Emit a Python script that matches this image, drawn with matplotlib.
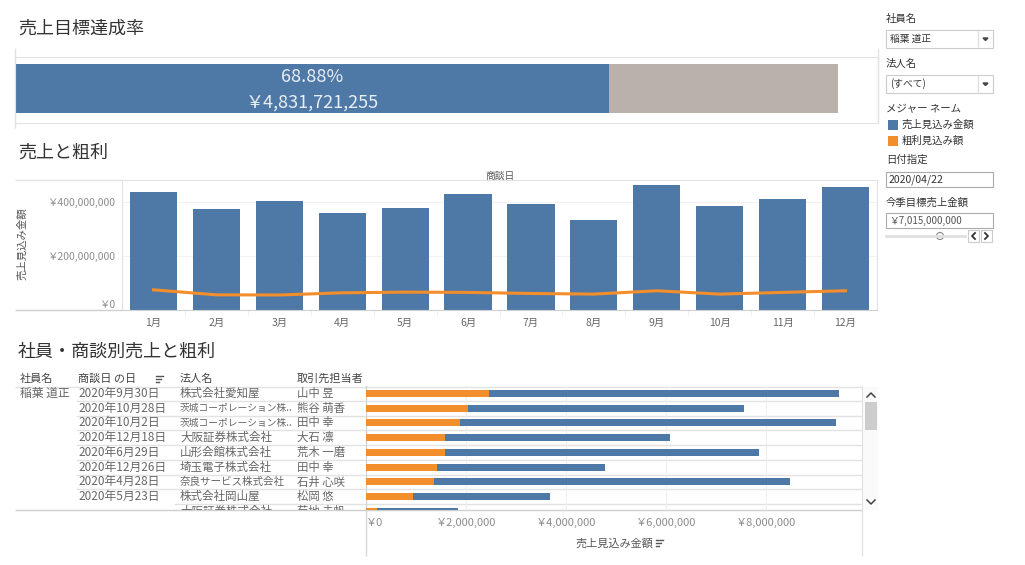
import matplotlib.pyplot as plt
from matplotlib.patches import Rectangle, Circle
import numpy as np

plt.rcParams['font.family'] = ['Noto Sans CJK JP', 'DejaVu Sans']

# ------------------------ #
# DATA
# ------------------------ #

achieved_sales = 4831721255
achieved_rate = 68.88
gray_bar_value = 6.69e9          # end of the grey bar
target_sales = 7015000000

months = ['1月', '2月', '3月', '4月', '5月', '6月',
          '7月', '8月', '9月', '10月', '11月', '12月']
monthly_sales = [435.6e6, 371.7e6, 401.0e6, 358.5e6, 376.9e6, 428.0e6,
                 391.5e6, 334.0e6, 461.0e6, 385.0e6, 410.0e6, 452.5e6]
monthly_profit = [74.5e6, 56.0e6, 55.4e6, 63.5e6, 66.0e6, 65.0e6,
                  61.0e6, 58.7e6, 71.0e6, 58.7e6, 65.0e6, 71.0e6]

employee = '稲葉 道正'
deal_dates = ['2020年9月30日', '2020年10月28日', '2020年10月2日', '2020年12月18日',
              '2020年6月29日', '2020年12月26日', '2020年4月28日', '2020年5月23日',
              '2020年5月23日']
companies = ['株式会社愛知屋', '茨城コーポレーション株..', '茨城コーポレーション株..',
             '大阪証券株式会社', '山形会館株式会社', '埼玉電子株式会社',
             '奈良サービス株式会社', '株式会社岡山屋', '大阪証券株式会社']
contacts = ['山中 昱', '熊谷 萌香', '田中 幸', '大石 凛', '荒木 一磨',
            '田中 幸', '石井 心咲', '松岡 悠', '菊地 未帆']
deal_sales = [9.46e6, 7.56e6, 9.39e6, 6.07e6, 7.85e6, 4.77e6, 8.47e6, 3.67e6, 1.83e6]
deal_profit = [2.45e6, 2.03e6, 1.87e6, 1.57e6, 1.57e6, 1.42e6, 1.35e6, 0.94e6, 0.22e6]

legend_names = ['売上見込み金額', '粗利見込み額']
selected_date = '2020/04/22'

# ------------------------ #
# STYLE
# ------------------------ #

BLUE = '#4e79a7'
ORANGE = '#f28e2b'
GREY = '#bab0ac'
LINE = '#e2e2e2'
DARK = '#333333'
MID = '#666666'
LIGHT = '#8c8c8c'

W, H = 1025, 565
fig = plt.figure(figsize=(W / 100, H / 100), dpi=100)


def add_ax(x0, y0, x1, y1):
    # axes given in pixel coords (origin top left)
    ax = fig.add_axes([x0 / W, 1 - y1 / H, (x1 - x0) / W, (y1 - y0) / H])
    ax.set_facecolor('none')
    return ax


ov = add_ax(0, 0, W, H)
ov.set_xlim(0, W)
ov.set_ylim(H, 0)
ov.axis('off')


def hline(y, x0, x1, c=LINE, lw=1.0):
    ov.plot([x0, x1], [y, y], color=c, lw=lw, solid_capstyle='butt')


def vline(x, y0, y1, c=LINE, lw=1.0):
    ov.plot([x, x], [y0, y1], color=c, lw=lw, solid_capstyle='butt')


def sort_icon(x, y):
    for k, ln in enumerate([7, 5, 3]):
        ov.plot([x, x + ln], [y - 3 + 3 * k] * 2, color='#555555', lw=1.0)


# titles
for ty, tt in [(29, '売上目標達成率'), (153, '売上と粗利'), (352, '社員・商談別売上と粗利')]:
    ov.text(18, ty, tt, fontsize=13, color=DARK, va='center')

# ------------------------ #
# PROGRESS BAR
# ------------------------ #
axp = add_ax(15, 57, 878, 123)
axp.barh(0, gray_bar_value, height=1, color=GREY)
axp.barh(0, achieved_sales, height=1, color=BLUE)
axp.set_xlim(0, target_sales)
axp.set_ylim(0.5 + 10 / 49, -0.5 - 7 / 49)
axp.set_xticks([])
axp.set_yticks([])
for s in axp.spines.values():
    s.set_color(LINE)
axp.text(achieved_sales / 2, -0.5 + 13 / 49, f'{achieved_rate:.2f}%',
         ha='center', va='center', fontsize=13, color='#e9eef4')
axp.text(achieved_sales / 2, -0.5 + 39 / 49, f'￥{achieved_sales:,}',
         ha='center', va='center', fontsize=13, color='#e9eef4')
vline(15, 48, 128)

# ------------------------ #
# MONTHLY BAR + LINE
# ------------------------ #
axb = add_ax(122, 180, 877, 310)
xm = np.arange(len(months))
axb.bar(xm, monthly_sales, width=0.75, color=BLUE, zorder=2)
axb.plot(xm, monthly_profit, color=ORANGE, lw=2.2, zorder=3)
axb.set_xlim(-0.5, len(months) - 0.5)
axb.set_ylim(0, 480e6)
axb.set_xticks(xm)
axb.set_xticklabels(months, fontsize=7.5, color=MID)
axb.set_xticks(xm[:-1] + 0.5, minor=True)
axb.set_yticks([0, 200e6, 400e6])
axb.set_yticklabels(['￥0', '￥200,000,000', '￥400,000,000'], fontsize=7.5, color=LIGHT)
axb.yaxis.get_ticklabels()[0].set_va('bottom')
axb.tick_params(axis='x', which='major', length=0, pad=6)
axb.tick_params(axis='x', which='minor', length=4, color='#eeeeee')
axb.tick_params(axis='y', length=0, pad=5)
axb.grid(axis='y', color='#f2f2f2', lw=0.8, zorder=0)
for s in axb.spines.values():
    s.set_color(LINE)
axb.spines['bottom'].set_color('#d0d0d0')
hline(180, 15, 122)
hline(310, 15, 122, c='#d0d0d0')
ov.text(500, 176, '商談日', fontsize=7, color='#555555', ha='center', va='center')
ov.text(22, 244, '売上見込み金額', fontsize=7.5, color='#555555',
        rotation=90, ha='center', va='center')

# ------------------------ #
# DEAL TABLE + BARS
# ------------------------ #
row_h = 14.75
n_vis = (510 - 386) / row_h
rows = np.arange(len(deal_dates))

axt = add_ax(15, 386, 366, 510)
axt.set_xlim(15, 366)
axt.set_ylim(n_vis, 0)
axt.axis('off')

axd = add_ax(366, 386, 862, 510)
axd.set_xlim(0, 9.92e6)
axd.set_ylim(n_vis, 0)

# header
ov.text(20, 379, '社員名', fontsize=8, color='#444444', va='center')
ov.text(78, 379, '商談日 の日', fontsize=8, color='#444444', va='center')
sort_icon(156, 379)
ov.text(180, 379, '法人名', fontsize=8, color='#444444', va='center')
ov.text(297, 379, '取引先担当者', fontsize=8, color='#444444', va='center')

axt.text(20, 0.5, employee, fontsize=8.5, color=MID, va='center', clip_on=True)
for i in rows:
    same_date = i > 0 and deal_dates[i] == deal_dates[i - 1]
    if not same_date:
        axt.text(78, i + 0.5, deal_dates[i], fontsize=8.5, color=MID, va='center', clip_on=True)
    n = len(companies[i])
    fs = 7 if n > 10 else (7.6 if n == 10 else 8.3)
    axt.text(180, i + 0.5, companies[i], fontsize=fs, color=MID, va='center', clip_on=True)
    axt.text(297, i + 0.5, contacts[i], fontsize=8.2, color=MID, va='center', clip_on=True)
    if i + 1 < len(rows):
        x_start = 175 if deal_dates[i] == deal_dates[i + 1] else 77
        axt.plot([x_start, 366], [i + 1, i + 1], color=LINE, lw=1.0)
        axd.axhline(i + 1, color=LINE, lw=1.0, zorder=1)

axd.barh(rows + 0.5, deal_sales, height=0.48, color=BLUE, zorder=2)
axd.barh(rows + 0.5, deal_profit, height=0.48, color=ORANGE, zorder=3)
xt = [0, 2e6, 4e6, 6e6, 8e6]
axd.set_xticks(xt)
axd.set_xticklabels([f'￥{int(v):,}' for v in xt], fontsize=8, color=LIGHT)
axd.xaxis.get_ticklabels()[0].set_ha('left')
axd.set_yticks([])
axd.tick_params(axis='x', length=0, pad=6)
axd.grid(axis='x', color='#efefef', lw=0.8, zorder=0)
for k in ['top', 'bottom']:
    axd.spines[k].set_visible(False)
axd.spines['left'].set_color('#d0d0d0')
axd.spines['right'].set_color(LINE)

hline(386.5, 15, 862)
hline(510, 15, 862, c='#d0d0d0')
vline(366, 510, 556, c='#d8d8d8')
vline(862, 510, 556, c=LINE)
ov.text(614, 543, '売上見込み金額', fontsize=8, color='#555555', ha='center', va='center')
sort_icon(656, 543)

# scrollbar
ov.add_patch(Rectangle((863, 387), 15, 123, facecolor='#fafafa', edgecolor='none'))
ov.add_patch(Rectangle((865, 402), 12, 28, facecolor='#cdcdcd', edgecolor='none'))
ov.plot([867, 871, 875], [397, 393, 397], color='#444444', lw=1.1)
ov.plot([867, 871, 875], [500, 504, 500], color='#444444', lw=1.1)

# ------------------------ #
# RIGHT PANEL
# ------------------------ #
vline(878, 48, 123)


def dropdown(y0, y1, label):
    ov.add_patch(Rectangle((886, y0), 107, y1 - y0, facecolor='white', edgecolor='#cccccc', lw=0.8))
    vline(978, y0 + 1, y1 - 1, c='#e0e0e0')
    ov.fill([983, 988, 985.5], [(y0 + y1) / 2 - 1, (y0 + y1) / 2 - 1, (y0 + y1) / 2 + 1.5],
            color='#444444')
    ov.text(890, (y0 + y1) / 2, label, fontsize=7, color=DARK, va='center')


ov.text(886, 19, '社員名', fontsize=7.5, color=DARK, va='center')
dropdown(30, 48, employee)
ov.text(886, 64, '法人名', fontsize=7.5, color=DARK, va='center')
dropdown(75, 93, '(すべて)')
ov.text(886, 109, 'メジャー ネーム', fontsize=7.5, color=DARK, va='center')
for k, (nm, col) in enumerate(zip(legend_names, [BLUE, ORANGE])):
    ov.add_patch(Rectangle((888, 120 + 16 * k), 10, 10, facecolor=col, edgecolor='none'))
    ov.text(902, 125 + 16 * k, nm, fontsize=7.5, color=DARK, va='center')

ov.text(886, 160, '日付指定', fontsize=7.5, color=DARK, va='center')
ov.add_patch(Rectangle((886, 172), 107, 15, facecolor='white', edgecolor='#aaaaaa', lw=0.8))
ov.text(889, 180, selected_date, fontsize=7.5, color=DARK, va='center')

ov.text(886, 203, '今季目標売上金額', fontsize=7.5, color=DARK, va='center')
ov.add_patch(Rectangle((886, 213), 107, 15, facecolor='white', edgecolor='#aaaaaa', lw=0.8))
ov.text(889, 221, f'￥{target_sales:,}', fontsize=7, color='#555555', va='center')

ov.plot([886, 965], [236, 236], color='#e0e0e0', lw=2)
ov.add_patch(Circle((940, 236), 3.5, facecolor='white', edgecolor='#888888', lw=0.8))
for bx in [968, 981]:
    ov.add_patch(Rectangle((bx, 230), 11, 12, facecolor='white', edgecolor='#cccccc', lw=0.8))
ov.plot([975, 972, 975], [233, 236, 239], color='#333333', lw=1.3)
ov.plot([985, 988, 985], [233, 236, 239], color='#333333', lw=1.3)

fig.savefig('out.png', dpi=100)
